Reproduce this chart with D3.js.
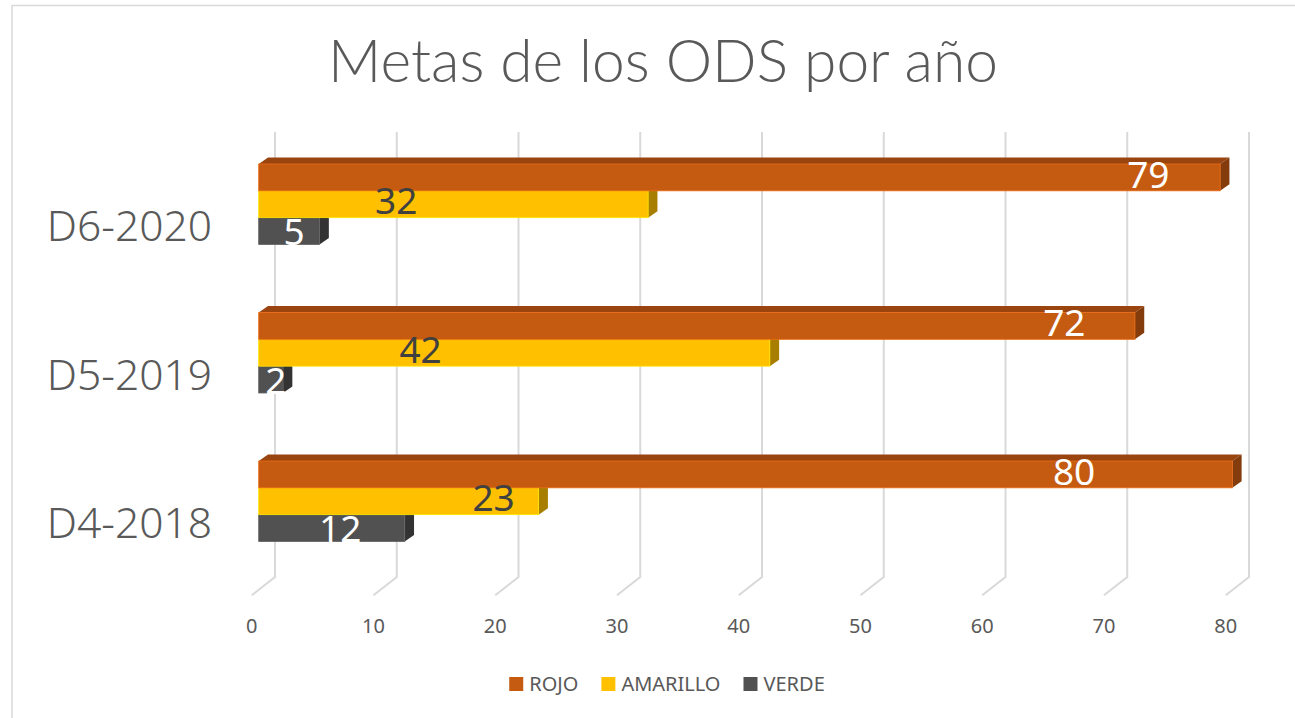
<!DOCTYPE html>
<html>
<head>
<meta charset="utf-8">
<script src="https://cdn.jsdelivr.net/npm/d3@7"></script>
<style>
  body { margin: 0; background: #fff; }
  svg { display: block; }
</style>
</head>
<body>
<div id="visHolder"></div>
<script>
var width = 1295;
var height = 718;

// data
var categories = ["D6-2020", "D5-2019", "D4-2018"];
var seriesNames = ["ROJO", "AMARILLO", "VERDE"];
var rojo = [79, 72, 80];
var amarillo = [32, 42, 23];
var verde = [5, 2, 12];
var xTicks = [0, 10, 20, 30, 40, 50, 60, 70, 80];
// where Excel put each data label along the value axis
var rojoLabelAt = [73.1, 66.2, 67.0];
var amarilloLabelAt = [11.3, 13.3, 19.3];
var verdeLabelAt = [2.9, 1.4, 6.7];

var series = [
  { name: "ROJO", values: rojo, labelAt: rojoLabelAt, front: "#C55A11", top: "#9A4510", side: "#843C0C", text: "#ffffff", dy: -3 },
  { name: "AMARILLO", values: amarillo, labelAt: amarilloLabelAt, front: "#FFC000", top: "#C99700", side: "#A87E00", text: "#404040", dy: -3 },
  { name: "VERDE", values: verde, labelAt: verdeLabelAt, front: "#515151", top: "#3A3A3A", side: "#333333", text: "#ffffff", dy: 1 }
];

var depth = { dx: 9.3, dy: -6.5 };      // bar thickness going back
var floor = { dx: -23.3, dy: 18.3 };    // floor depth from back wall to front edge
var textGray = "#595959";
var gridGray = "#d9d9d9";

var svg = d3.select("#visHolder")
  .append("svg")
  .attr("width", width)
  .attr("height", height);

svg.append("rect")
  .attr("x", 12).attr("y", 5.5)
  .attr("width", 1320).attr("height", 740)
  .attr("fill", "#fff")
  .attr("stroke", gridGray)
  .attr("stroke-width", 1.5);

// title
var title = svg.append("text")
  .attr("x", 663)
  .attr("y", 82)
  .attr("text-anchor", "middle")
  .attr("fill", textGray)
  .style("font-family", "Lato, 'Noto Sans', sans-serif")
  .style("font-weight", 300)
  .style("font-size", "54px")
  .text("Metas de los ODS por año");
var tw = title.node().getComputedTextLength();
title.style("font-size", (54 * 670 / tw) + "px");

// scales
var xBack = d3.scaleLinear().domain([0, 80]).range([275, 1249]);
var xFront = d3.scaleLinear().domain([0, 80]).range([258.7, 1232.3]);
var yCat = d3.scalePoint().domain(categories).range([164, 461]);
var ySer = d3.scaleBand().domain(seriesNames).range([0, 80.5]);

// back wall gridlines + floor lines
var grid = svg.append("g").attr("id", "grid");
grid.selectAll("path")
  .data(xTicks)
  .enter()
  .append("path")
  .attr("d", (d) => {
    var p = d3.path();
    p.moveTo(xBack(d), 132);
    p.lineTo(xBack(d), 577);
    p.lineTo(xBack(d) + floor.dx, 577 + floor.dy);
    return p.toString();
  })
  .attr("fill", "none")
  .attr("stroke", gridGray)
  .attr("stroke-width", 2);

svg.append("g")
  .selectAll("text")
  .data(xTicks)
  .enter()
  .append("text")
  .attr("x", (d) => xBack(d) + floor.dx)
  .attr("y", 633)
  .attr("text-anchor", "middle")
  .attr("fill", textGray)
  .style("font-family", "'Noto Sans', sans-serif")
  .style("font-size", "20px")
  .text((d) => d);

// category labels
svg.append("g")
  .selectAll("text")
  .data(categories)
  .enter()
  .append("text")
  .attr("x", 212)
  .attr("y", (d) => yCat(d) + 77)
  .attr("text-anchor", "end")
  .attr("fill", textGray)
  .style("font-family", "'Noto Sans', sans-serif")
  .style("font-weight", 300)
  .style("font-size", "42.5px")
  .text((d) => d);

function poly(pts) {
  return "M" + pts.map((p) => p.join(",")).join("L") + "Z";
}

// bars: bottom series first so the bar above hides its top face
var bars = svg.append("g").attr("id", "bars");
categories.forEach((cat, ci) => {
  series.slice().reverse().forEach((s) => {
    var v = s.values[ci];
    var x0 = xFront(0), xe = xFront(v);
    var yt = yCat(cat) + ySer(s.name);
    var yb = yt + ySer.bandwidth();
    var g = bars.append("g").attr("class", "bar");
    g.append("path")
      .attr("d", poly([[x0, yt], [x0 + depth.dx, yt + depth.dy], [xe + depth.dx, yt + depth.dy], [xe, yt]]))
      .attr("fill", s.top);
    g.append("path")
      .attr("d", poly([[xe, yt], [xe + depth.dx, yt + depth.dy], [xe + depth.dx, yb + depth.dy], [xe, yb]]))
      .attr("fill", s.side);
    g.append("rect")
      .attr("x", x0)
      .attr("y", yt)
      .attr("width", xe - x0)
      .attr("height", yb - yt)
      .attr("fill", s.front)
      .attr("stroke", d3.color(s.front).brighter(0.5))
      .attr("stroke-width", 0.8);
  });
});

// data labels
var labels = svg.append("g").attr("id", "labels");
categories.forEach((cat, ci) => {
  series.forEach((s) => {
    var yc = yCat(cat) + ySer(s.name) + ySer.bandwidth() / 2 + s.dy;
    labels.append("text")
      .attr("x", xFront(s.labelAt[ci]))
      .attr("y", yc + 13.2)
      .attr("text-anchor", "middle")
      .attr("fill", s.text)
      .style("font-family", "'Noto Sans', sans-serif")
      .style("font-size", "37px")
      .text(s.values[ci]);
  });
});

// legend
var legend = svg.append("g").attr("id", "legend");
var lx = 0;
series.forEach((s, i) => {
  var item = legend.append("g").attr("class", "legend-label");
  item.append("rect")
    .attr("x", lx).attr("y", 677)
    .attr("width", 14).attr("height", 14)
    .attr("fill", s.front);
  var t = item.append("text")
    .attr("x", lx + 20)
    .attr("y", 691)
    .attr("fill", textGray)
    .style("font-family", "'Noto Sans', sans-serif")
    .style("font-size", "20px")
    .text(s.name);
  lx += 20 + t.node().getComputedTextLength() + 23;
});
var lw = lx - 23;
legend.attr("transform", "translate(" + (667 - lw / 2) + ",0)");
</script>
</body>
</html>
